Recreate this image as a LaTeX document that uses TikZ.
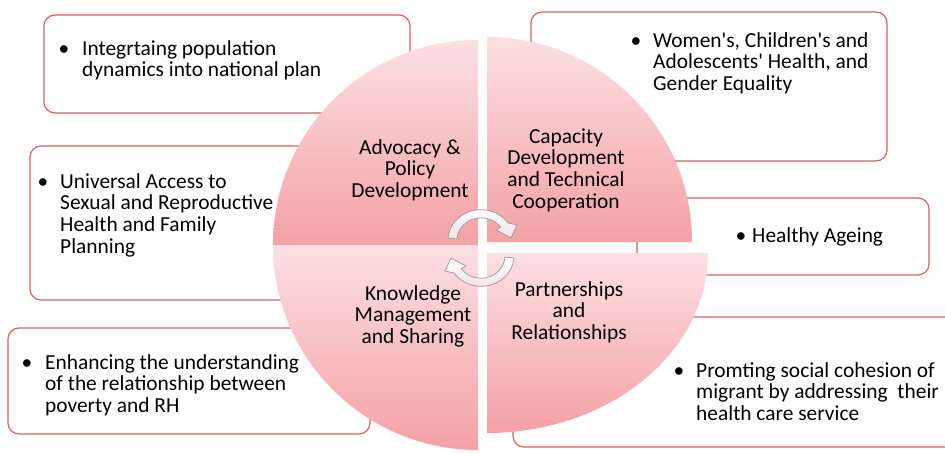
\documentclass[tikz,border=0pt]{standalone}
\usepackage{fontspec}
\setmainfont{Carlito}[Ligatures=TeXOff]
\definecolor{boxline}{RGB}{214,98,92}
\definecolor{pinklight}{RGB}{252,224,226}
\definecolor{pinkdark}{RGB}{244,161,166}
\definecolor{arrline}{RGB}{150,150,150}
\definecolor{arrfill}{RGB}{246,226,229}
\begin{document}
\begin{tikzpicture}[x=1pt,y=-1pt,
  itembox/.style={draw=boxline,line width=1.2pt,rounded corners=11pt,fill=white},
  quad/.style={top color=pinklight,bottom color=pinkdark,draw=none},
  cyclearrow/.style={draw=arrline,line width=0.7pt,top color=white,bottom color=arrfill,line join=round},
  txt/.style={font=\fontsize{21.4}{21.7}\selectfont,align=left,inner sep=0pt,anchor=base west},
  lab/.style={font=\fontsize{21.4}{21.7}\selectfont,align=center,inner sep=0pt,anchor=base},
  bul/.style={font=\fontsize{21.4}{21.7}\selectfont,inner sep=0pt,anchor=base}]
\useasboundingbox (0,0) rectangle (945,453);
\clip (0,0) rectangle (945,453);
\fill[white] (0,0) rectangle (945,453);
% boxes
\draw[itembox] (44,15) rectangle (410,113);
\draw[itembox] (30,146) rectangle (420,300);
\draw[itembox] (8,328) rectangle (370,434);
\draw[itembox] (531,12) rectangle (887,161);
\draw[itembox] (637,198) rectangle (929,275);
\draw[itembox] (513,317) rectangle (965,447);
% quadrants
\path[quad] (478,245) -- (273,245) arc[start angle=180,end angle=270,radius=205] -- cycle;
\path[quad] (478,245) -- (273,245) arc[start angle=180,end angle=90,radius=205] -- cycle;
\path[quad] (487,242) -- (692,242) arc[start angle=0,end angle=-90,radius=205] -- cycle;
\path[quad] (487,253) -- (708,253) arc[start angle=0,end angle=90,x radius=221,y radius=180] -- cycle;
% cycle arrows
\path[cyclearrow] (457,239) -- (448,238)
  arc[start angle=185,end angle=325,x radius=33,y radius=31]
  -- (517,225) -- (511,238) -- (496,230) -- (500.7,227.2)
  arc[start angle=325,end angle=185,x radius=24,y radius=22] -- cycle;
\begin{scope}[rotate around={180:(481,248)}]
\path[cyclearrow] (457,239) -- (448,238)
  arc[start angle=185,end angle=325,x radius=33,y radius=31]
  -- (517,225) -- (511,238) -- (496,230) -- (500.7,227.2)
  arc[start angle=325,end angle=185,x radius=24,y radius=22] -- cycle;
\end{scope}
% quadrant labels (anchored at the baseline of the last line)
\node[lab] (q1) at (410,197.4) {Advocacy \&\\Policy\\Development};
\node[lab] (q2) at (566,208.1) {Capacity\\Development\\and Technical\\Cooperation};
\node[lab] (q3) at (413,343.4) {Knowledge\\Management\\and Sharing};
\node[lab] (q4) at (569,339.4) {Partnerships\\and\\Relationships};
% box texts
\node[bul] (b1) at (64,55) {•};
\node[txt] (t1) at (82,76.7) {Integrtaing population\\dynamics into national plan};
\node[bul] (b2) at (43,188) {•};
\node[txt] (t2) at (60,253.1) {Universal Access to\\Sexual and Reproductive\\Health and Family\\Planning};
\node[bul] (b3) at (27,369) {•};
\node[txt] (t3) at (45,412.4) {Enhancing the understanding\\of the relationship between\\poverty and RH};
\node[bul] (b4) at (636,47) {•};
\node[txt] (t4) at (653,90.4) {Women's, Children's and\\Adolescents' Health, and\\Gender Equality};
\node[bul] (b5) at (741,242) {•};
\node[txt] (t5) at (752,242) {Healthy Ageing};
\node[bul] (b6) at (679,377) {•};
\node[txt] (t6) at (696,420.4) {Promting social cohesion of\\migrant by addressing\ \ their\\health care service};
\end{tikzpicture}
\end{document}
